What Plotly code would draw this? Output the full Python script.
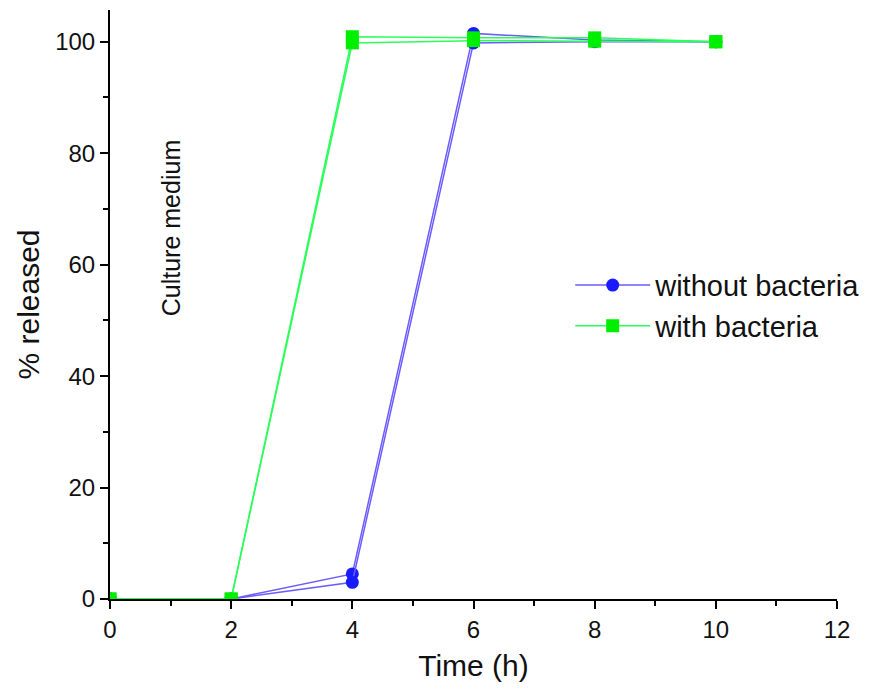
import plotly.graph_objects as go

time_h = [0, 2, 4, 6, 8, 10]
without_bacteria_r1 = [0, 0, 4.5, 101.5, 100.3, 100.0]
without_bacteria_r2 = [0, 0, 3.0, 99.8, 100.0, 100.0]
with_bacteria_r1 = [0, 0, 100.9, 100.7, 100.7, 100.0]
with_bacteria_r2 = [0, 0, 99.8, 100.2, 100.1, 100.0]
x_ticks = [0, 2, 4, 6, 8, 10, 12]
y_ticks = [0, 20, 40, 60, 80, 100]

blue_line = "#6b5cff"
blue_marker = "#1a1aff"
green_line = "#2bff5a"
green_marker = "#00ee00"

fig = go.Figure()
for i, ys in enumerate([without_bacteria_r1, without_bacteria_r2]):
    fig.add_trace(go.Scatter(
        x=time_h, y=ys, mode="lines+markers", name="without bacteria",
        legendgroup="wo", showlegend=(i == 0),
        line=dict(color=blue_line, width=1.5),
        marker=dict(symbol="circle", size=13, color=blue_marker),
    ))
for i, ys in enumerate([with_bacteria_r1, with_bacteria_r2]):
    fig.add_trace(go.Scatter(
        x=time_h, y=ys, mode="lines+markers", name="with bacteria",
        legendgroup="w", showlegend=(i == 0),
        line=dict(color=green_line, width=1.5),
        marker=dict(symbol="square", size=13, color=green_marker),
    ))

fig.add_annotation(
    x=1.02, y=66.5, xref="x", yref="y", text="Culture medium", showarrow=False,
    textangle=-90, font=dict(size=25, color="#111111"),
)

fig.update_layout(
    width=862, height=682,
    margin=dict(l=102, r=33, t=2, b=91),
    paper_bgcolor="white", plot_bgcolor="white",
    font=dict(family="Liberation Sans, Arial, sans-serif", color="#111111", size=24),
    legend=dict(x=0.633, y=0.576, xanchor="left", yanchor="top",
                font=dict(size=29, color="#111111"), bgcolor="rgba(0,0,0,0)",
                tracegroupgap=0, itemwidth=75),
    xaxis=dict(range=[0, 12], tickvals=x_ticks, showgrid=False, zeroline=False,
               automargin=False,
               showline=True, linecolor="black", linewidth=2,
               ticks="outside", ticklen=8, tickwidth=2, tickcolor="black",
               minor=dict(dtick=1, ticks="outside", ticklen=5, tickwidth=2, tickcolor="black"),
               title=dict(text="Time (h)", font=dict(size=30), standoff=13)),
    yaxis=dict(range=[0, 105.7], tickvals=y_ticks, showgrid=False, zeroline=False,
               automargin=False,
               showline=True, linecolor="black", linewidth=2,
               ticks="outside", ticklen=8, tickwidth=2, tickcolor="black",
               minor=dict(dtick=10, ticks="outside", ticklen=5, tickwidth=2, tickcolor="black"),
               title=dict(text="% released", font=dict(size=30), standoff=7)),
)
fig.update_xaxes(tickfont=dict(size=24, color="#111111"))
fig.update_yaxes(tickfont=dict(size=24, color="#111111"))

fig.write_html("out.html")
